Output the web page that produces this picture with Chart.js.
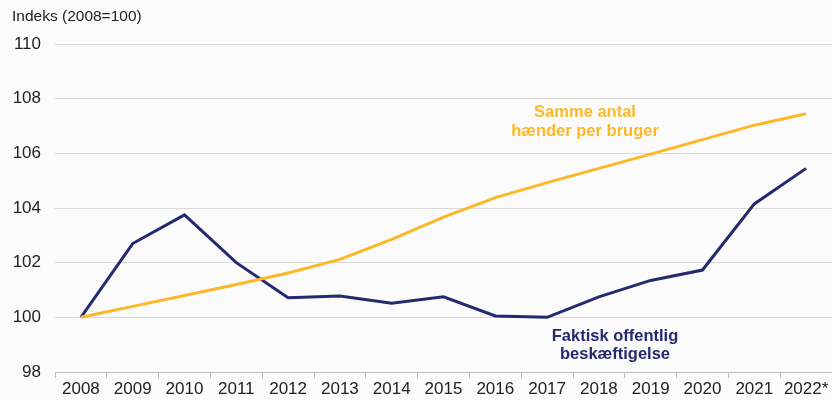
<!DOCTYPE html>
<html>
<head>
<meta charset="utf-8">
<script src="https://cdn.jsdelivr.net/npm/chart.js@4"></script>
<style>
  html, body { margin: 0; padding: 0; background: #fbfbfb; }
  #wrap { width: 832px; height: 400px; position: relative; }
</style>
</head>
<body>
<div id="wrap"><canvas id="myChart"></canvas></div>
<script>
const years = ["2008", "2009", "2010", "2011", "2012", "2013", "2014", "2015",
  "2016", "2017", "2018", "2019", "2020", "2021", "2022*"];
const faktisk = [100, 102.7, 103.75, 102.0, 100.72, 100.78, 100.52, 100.75,
  100.05, 100.0, 100.75, 101.35, 101.73, 104.15, 105.45];
const sammeAntal = [100, 100.4, 100.8, 101.2, 101.62, 102.12, 102.85, 103.67,
  104.38, 104.93, 105.45, 105.97, 106.5, 107.03, 107.45];
const yTicks = [98, 100, 102, 104, 106, 108, 110];

const navy = "#232a6e";
const yellow = "#fdb827";
const fontFam = "'Liberation Sans', Arial, sans-serif";

// text labels next to the lines + the unit text above the axis
const labelsPlugin = {
  id: "lineLabels",
  afterDraw(chart) {
    const c = chart.ctx;
    c.save();
    c.font = "15.5px " + fontFam;
    c.fillStyle = "#222";
    c.textAlign = "left";
    c.textBaseline = "middle";
    c.fillText("Indeks (2008=100)", 12, 17);

    c.font = "bold 16.5px " + fontFam;
    c.textAlign = "center";
    c.fillStyle = yellow;
    c.fillText("Samme antal", 585, 112);
    c.fillText("hænder per bruger", 585, 131);
    c.fillStyle = navy;
    c.fillText("Faktisk offentlig", 615, 336);
    c.fillText("beskæftigelse", 615, 354);
    c.restore();
  },
};

new Chart(document.getElementById("myChart"), {
  type: "line",
  data: {
    labels: years,
    datasets: [
      {
        label: "Samme antal hænder per bruger",
        data: sammeAntal,
        borderColor: yellow,
        borderWidth: 3,
        pointRadius: 0,
        tension: 0,
      },
      {
        label: "Faktisk offentlig beskæftigelse",
        data: faktisk,
        borderColor: navy,
        borderWidth: 3,
        pointRadius: 0,
        tension: 0,
      },
    ],
  },
  options: {
    responsive: true,
    maintainAspectRatio: false,
    animation: false,
    layout: { padding: { top: 44, right: 0, left: 0, bottom: 0 } },
    plugins: {
      legend: { display: false },
      tooltip: { enabled: false },
    },
    scales: {
      x: {
        offset: true,
        grid: {
          display: true,
          offset: true,
          drawOnChartArea: false,
          drawTicks: true,
          tickLength: 6,
          color: "#bdbdbd",
        },
        border: { color: "#bdbdbd" },
        ticks: {
          color: "#222",
          font: { size: 17, family: fontFam },
          padding: 1,
          maxRotation: 0,
          autoSkip: false,
        },
        afterFit(scale) { scale.height = 28; },
      },
      y: {
        min: 98,
        max: 110,
        afterBuildTicks(scale) {
          scale.ticks = yTicks.map((v) => ({ value: v }));
        },
        grid: { color: "#d9d9d9", drawTicks: false, lineWidth: 1 },
        border: { display: false },
        ticks: {
          color: "#222",
          font: { size: 17, family: fontFam },
          padding: 14,
        },
        afterFit(scale) { scale.width = 55; },
      },
    },
  },
  plugins: [labelsPlugin],
});
</script>
</body>
</html>
